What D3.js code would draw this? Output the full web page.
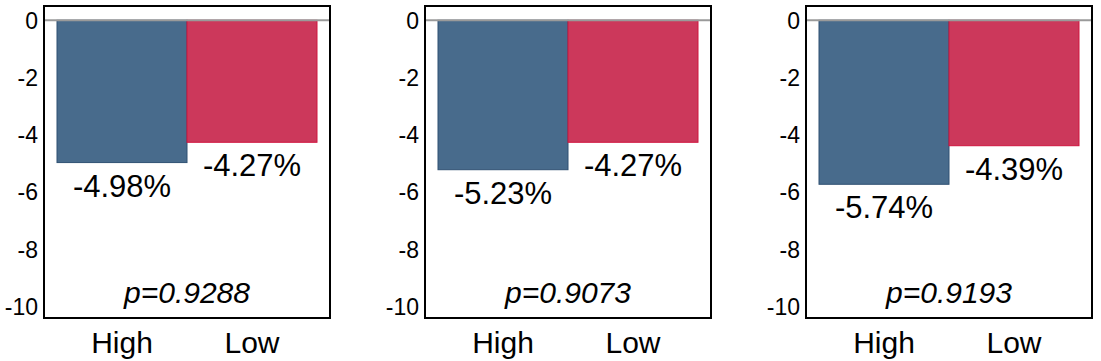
<!DOCTYPE html>
<html>
<head>
<meta charset="utf-8">
<script src="https://cdn.jsdelivr.net/npm/d3@7"></script>
<style>
  body { margin: 0; background: #fff; }
  svg { font-family: Arial, "Liberation Sans", Helvetica, sans-serif; }
</style>
</head>
<body>
<div id="vis"></div>
<script>

const FRAME_WIDTH = 1101;
const FRAME_HEIGHT = 361;
const PANEL_STEP = 381;
const MARGINS = {left: 44, right: 771, top: 6, bottom: 43};

// data
const groups = ["High", "Low"];
const highVals = [-4.98, -5.23, -5.74];
const lowVals = [-4.27, -4.27, -4.39];
const pVals = ["0.9288", "0.9073", "0.9193"];
const yTicks = [0, -2, -4, -6, -8, -10];
const colors = {High: "#486b8c", Low: "#cc385b"};
const strokes = {High: "#2f5173", Low: "#d0143f"};

const VIS_WIDTH = FRAME_WIDTH - MARGINS.left - MARGINS.right;
const VIS_HEIGHT = FRAME_HEIGHT - MARGINS.top - MARGINS.bottom;

const svg = d3.select("#vis")
              .append("svg")
                .attr("width", FRAME_WIDTH)
                .attr("height", FRAME_HEIGHT);

const X_SCALE = d3.scaleBand()
                  .domain(groups)
                  .range([0, VIS_WIDTH])
                  .paddingInner(0)
                  .paddingOuter(0.1);

const Y_SCALE = d3.scaleLinear()
                  .domain([0.5, -10.42])
                  .range([0, VIS_HEIGHT]);

highVals.forEach((h, i) => {
  const rows = [{g: "High", v: h}, {g: "Low", v: lowVals[i]}];

  const panel = svg.append("g")
      .attr("transform", "translate(" + (MARGINS.left + i * PANEL_STEP) + "," + MARGINS.top + ")");

  // y axis labels
  panel.append("g")
      .attr("font-size", 23)
      .attr("font-family", "Arial, 'Liberation Sans', sans-serif")
      .call(d3.axisLeft(Y_SCALE).tickValues(yTicks).tickSize(0).tickPadding(6).tickFormat(d => String(d)))
      .call(g => g.select(".domain").remove())
      .call(g => g.attr("font-size", 23))
      .selectAll("text")
        .attr("fill", "#000")
        .attr("dy", "0.36em");

  panel.selectAll(".bar")
      .data(rows)
      .enter()
      .append("rect")
        .attr("x", d => X_SCALE(d.g))
        .attr("y", Y_SCALE(0))
        .attr("width", X_SCALE.bandwidth())
        .attr("height", d => Y_SCALE(d.v) - Y_SCALE(0))
        .attr("fill", d => colors[d.g])
        .attr("stroke", d => strokes[d.g])
        .attr("stroke-width", 1);

  // zero line
  panel.append("line")
      .attr("x1", 0).attr("x2", VIS_WIDTH)
      .attr("y1", Y_SCALE(0)).attr("y2", Y_SCALE(0))
      .attr("stroke", "#9a9a9a")
      .attr("stroke-width", 2);

  // value labels
  panel.selectAll(".val")
      .data(rows)
      .enter()
      .append("text")
        .attr("x", d => X_SCALE(d.g) + X_SCALE.bandwidth() / 2)
        .attr("y", d => Y_SCALE(d.v) + 34)
        .attr("text-anchor", "middle")
        .attr("font-size", "31px")
        .text(d => d.v.toFixed(2) + "%");

  // p value
  panel.append("text")
      .attr("x", VIS_WIDTH / 2)
      .attr("y", 297)
      .attr("text-anchor", "middle")
      .attr("font-size", "30px")
      .attr("font-style", "italic")
      .text("p=" + pVals[i]);

  // frame
  panel.append("rect")
      .attr("x", 0).attr("y", 0)
      .attr("width", VIS_WIDTH)
      .attr("height", VIS_HEIGHT)
      .attr("fill", "none")
      .attr("stroke", "#000")
      .attr("stroke-width", 2);

  // category labels
  panel.selectAll(".cat")
      .data(groups)
      .enter()
      .append("text")
        .attr("x", d => X_SCALE(d) + X_SCALE.bandwidth() / 2)
        .attr("y", VIS_HEIGHT + 35)
        .attr("text-anchor", "middle")
        .attr("font-size", "30px")
        .text(d => d);
});

</script>
</body>
</html>
